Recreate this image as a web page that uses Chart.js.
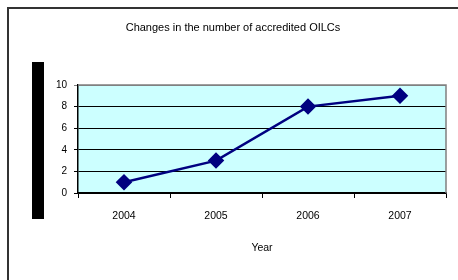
<!DOCTYPE html>
<html>
<head>
<meta charset="utf-8">
<script src="https://cdn.jsdelivr.net/npm/chart.js@4/dist/chart.umd.min.js"></script>
<style>
html,body{margin:0;padding:0;background:#fff;}
#wrap{width:458px;height:280px;position:relative;}
</style>
</head>
<body>
<div id="wrap"><canvas id="c" width="458" height="280"></canvas></div>
<script>
const years = ["2004", "2005", "2006", "2007"];
const accreditedOILCs = [1, 3, 8, 9];
const yTicks = [0, 2, 4, 6, 8, 10];
const chartTitle = "Changes in the number of accredited OILCs";
const xTitle = "Year";

const FONT = "'Liberation Sans', Arial, sans-serif";

const decor = {
  id: 'decor',
  beforeDraw(chart) {
    const {ctx, chartArea: a} = chart;
    ctx.save();
    ctx.fillStyle = '#FFFFFF';
    ctx.fillRect(0, 0, chart.width, chart.height);
    // outer frame (extends beyond the visible picture)
    ctx.strokeStyle = '#333333';
    ctx.lineWidth = 2;
    ctx.strokeRect(8, 8, chart.width + 20, chart.height + 20);
    // plot area background
    ctx.fillStyle = '#CCFFFF';
    ctx.fillRect(a.left, a.top, a.right - a.left, a.bottom - a.top);
    // black block left of axis
    ctx.fillStyle = '#000000';
    ctx.fillRect(a.left - 46, a.top - 23, 12, 157);
    ctx.restore();
  },
  afterDatasetsDraw(chart) {},
  beforeDatasetsDraw(chart) {
    const {ctx, chartArea: a} = chart;
    ctx.save();
    ctx.strokeStyle = '#808080';
    ctx.lineWidth = 1.5;
    ctx.beginPath();
    ctx.moveTo(a.left, a.top);
    ctx.lineTo(a.right, a.top);
    ctx.lineTo(a.right, a.bottom);
    ctx.stroke();
    ctx.restore();
  }
};

new Chart(document.getElementById('c'), {
  type: 'line',
  data: {
    labels: years,
    datasets: [{
      data: accreditedOILCs,
      borderColor: '#000080',
      backgroundColor: '#000080',
      borderWidth: 2.5,
      pointStyle: 'rectRot',
      pointRadius: 6.5,
      pointHoverRadius: 6.5,
      pointBackgroundColor: '#000080',
      pointBorderColor: '#000080',
      tension: 0,
      fill: false
    }]
  },
  options: {
    responsive: false,
    animation: false,
    devicePixelRatio: 1,
    layout: {padding: {left: 20, right: 12, top: 0, bottom: 0}},
    plugins: {
      legend: {display: false},
      tooltip: {enabled: false},
      title: {
        display: true,
        text: chartTitle,
        color: '#000',
        font: {family: FONT, size: 11, weight: 'normal', lineHeight: 1.2},
        padding: {top: 21.4, bottom: 50.4}
      }
    },
    scales: {
      x: {
        type: 'category',
        offset: true,
        afterFit(s) { s.height = 87; },
        grid: {
          display: true,
          offset: true,
          drawOnChartArea: false,
          drawTicks: true,
          tickLength: 5,
          color: '#000',
          lineWidth: 1
        },
        border: {display: true, color: '#000', width: 1.5},
        ticks: {
          color: '#000',
          font: {family: FONT, size: 10.5},
          padding: 12,
          maxRotation: 0
        },
        title: {
          display: true,
          text: xTitle,
          color: '#000',
          font: {family: FONT, size: 10.5, lineHeight: 1.2},
          padding: {top: 0, bottom: 25.7}
        }
      },
      y: {
        min: 0,
        max: 10,
        afterFit(s) { s.width = 58; },
        afterBuildTicks(s) { s.ticks = yTicks.map(v => ({value: v})); },
        grid: {
          drawTicks: true,
          tickLength: 4,
          color: (c) => (c.tick && c.tick.value === 10) ? '#808080' : '#000',
          lineWidth: 1
        },
        border: {display: true, color: '#000', width: 1.5},
        ticks: {
          color: '#000',
          font: {family: FONT, size: 10},
          padding: 7
        }
      }
    }
  },
  plugins: [decor]
});
</script>
</body>
</html>
